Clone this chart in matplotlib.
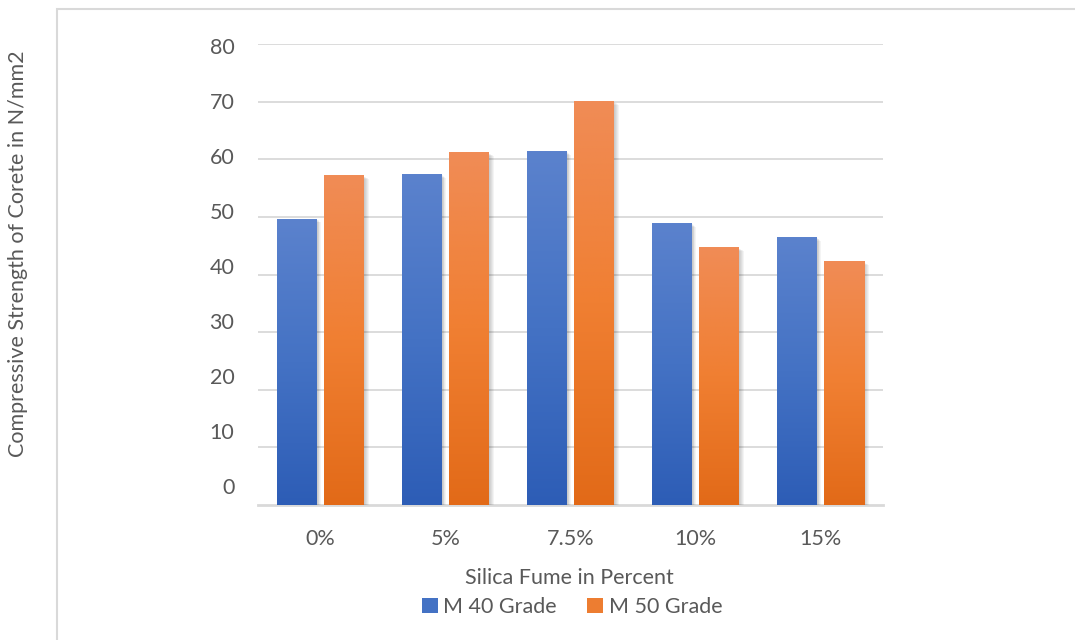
import matplotlib
matplotlib.use('Agg')
import matplotlib.pyplot as plt
from matplotlib.colors import LinearSegmentedColormap
from matplotlib.patches import Patch, Rectangle
import numpy as np

# data
categories = ['0%', '5%', '7.5%', '10%', '15%']
m40_grade = [49.6, 57.3, 61.3, 48.8, 46.4]
m50_grade = [57.1, 61.1, 70.0, 44.6, 42.2]
yticks = [0, 10, 20, 30, 40, 50, 60, 70, 80]

plt.rcParams['font.family'] = ['Lato', 'DejaVu Sans']
txt = '#595959'
grid_c = '#d9d9d9'
fs = 15.5

blue_cm = LinearSegmentedColormap.from_list('b', ['#2d5db6', '#4472c4', '#5b82cd'])
orange_cm = LinearSegmentedColormap.from_list('o', ['#e26a18', '#f07f32', '#f08c56'])

fig = plt.figure(figsize=(10.75, 6.4), dpi=100)
# light frame around chart area
fig.patches.append(Rectangle((57 / 1075, -0.1), 1.0, 1 - 9 / 640 + 0.1,
                             transform=fig.transFigure, fill=False,
                             edgecolor='#d9d9d9', linewidth=1.5))

ax = fig.add_axes([258 / 1075, 1 - 505 / 640, 625 / 1075, 461 / 640])

x = np.arange(len(categories))
width = 0.32
off = 0.19
grad = np.linspace(1, 0, 256).reshape(-1, 1)

px_x = len(categories) / 625.0
px_y = 80 / 461.0


def draw_bar(xc, h, cmap):
    x0, x1 = xc - width / 2, xc + width / 2
    # soft shadow
    for k in range(1, 6):
        ax.add_patch(Rectangle((x0 + k * px_x * 0.9, -k * px_y * 0.6), width, h,
                               facecolor='black', alpha=0.045, linewidth=0, zorder=2))
    ax.imshow(grad, extent=[x0, x1, 0, h], aspect='auto', cmap=cmap,
              vmin=0, vmax=1, zorder=3, interpolation='bilinear')


for i in range(len(categories)):
    draw_bar(x[i] - off, m40_grade[i], blue_cm)
    draw_bar(x[i] + off, m50_grade[i], orange_cm)

ax.set_xlim(-0.5, len(categories) - 0.5)
ax.set_ylim(0, 80)

# gridlines at the real values
for v in yticks[1:]:
    ax.axhline(v, color=grid_c, linewidth=1.3, zorder=0)

# tick labels in the source sit slightly compressed towards the top
label_pos = [80 - 0.35 - (80 - v) * 0.954 for v in yticks]
ax.set_yticks(label_pos)
ax.set_yticklabels([str(v) for v in yticks])

ax.set_xticks(x)
ax.set_xticklabels(categories)
for s in ['top', 'right', 'left']:
    ax.spines[s].set_visible(False)
ax.spines['bottom'].set_color(grid_c)
ax.spines['bottom'].set_linewidth(2)
ax.spines['bottom'].set_zorder(1)
ax.tick_params(axis='both', length=0, labelsize=fs, colors=txt)
ax.tick_params(axis='y', pad=17)
ax.tick_params(axis='x', pad=17)

fig.text(18 / 1075, 1 - 254 / 640, 'Compressive Strength of Corete in N/mm2',
         rotation=90, ha='center', va='center', fontsize=fs, color=txt)
fig.text(569 / 1075, 1 - 578 / 640, 'Silica Fume in Percent',
         ha='center', va='center', fontsize=fs, color=txt)

handles = [Patch(facecolor='#4472c4', label='M 40 Grade'),
           Patch(facecolor='#ed7d31', label='M 50 Grade')]
fig.legend(handles=handles, loc='center', bbox_to_anchor=(572 / 1075, 1 - 607 / 640),
           ncol=2, frameon=False, fontsize=fs, labelcolor=txt,
           handlelength=0.75, handleheight=0.75, handletextpad=0.25, columnspacing=1.4)

fig.savefig('out.png', dpi=100)
